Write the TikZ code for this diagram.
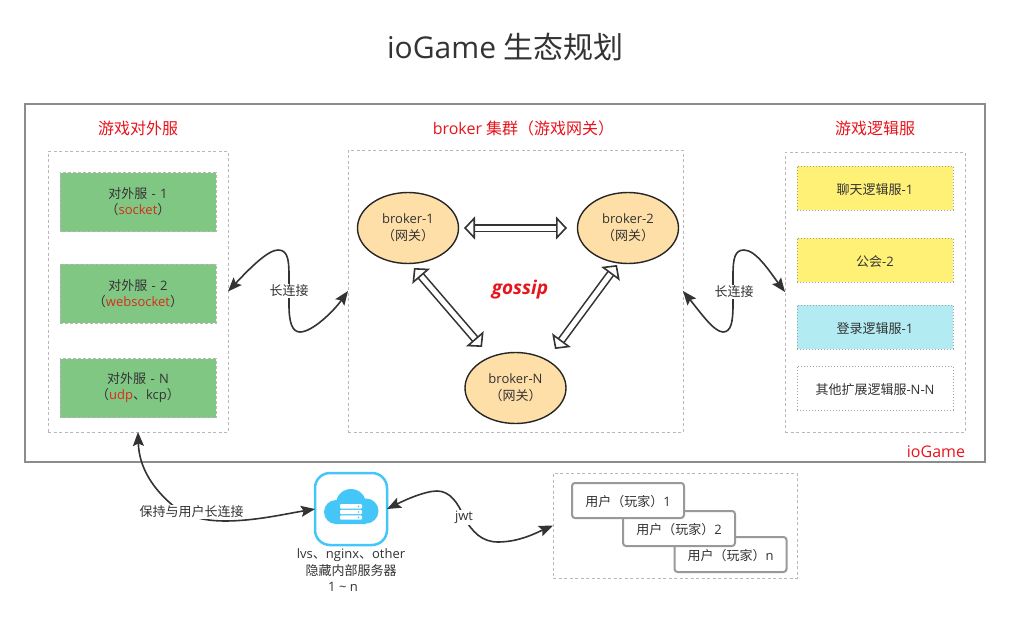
\documentclass[tikz,border=0pt]{standalone}
\usepackage{fontspec}
\setmainfont{Open Sans}
\newfontfamily\cjk{Noto Sans CJK SC}
\usetikzlibrary{arrows.meta,shapes.geometric}
\newcommand{\zh}[1]{{\cjk #1}}
\newcommand{\fsz}[1]{\fontsize{#1}{#1}\selectfont}
\newcommand{\gap}[1]{\rule{0pt}{#1pt}}
\newcommand{\dsh}{\kern1pt\ -\ \kern1pt}
\definecolor{ink}{HTML}{333333}
\definecolor{hotred}{HTML}{E8141C}
\definecolor{softred}{HTML}{D92B1A}
\definecolor{dashgray}{HTML}{B8B8B8}
\definecolor{dotgray}{HTML}{A0A0A0}
\definecolor{boxgreen}{HTML}{81C784}
\definecolor{boxyellow}{HTML}{FFF176}
\definecolor{boxcyan}{HTML}{B2EBF2}
\definecolor{boxorange}{HTML}{FFDFA8}
\definecolor{cloudblue}{HTML}{45C6F8}
\tikzset{
  every node/.style={inner sep=0pt,outer sep=0pt,text=ink,align=center},
  group/.style={draw=dashgray,line width=1pt,dash pattern=on 3pt off 2.5pt,fill=white},
  greenbox/.style={fill=boxgreen,draw=dashgray,line width=1pt,dash pattern=on 3pt off 2pt,minimum width=156pt,minimum height=59pt,font=\fsz{13},execute at begin node={\gap{14.4}}},
  logicbox/.style={draw=dotgray,line width=1pt,dotted,minimum width=156pt,minimum height=44pt,font=\fsz{13},execute at begin node={\gap{13.4}}},
  brokernode/.style={ellipse,draw=black!85,line width=1.4pt,fill=boxorange,minimum width=101pt,minimum height=71pt,font=\fsz{13},execute at begin node={\gap{15.4}}},
  userbox/.style={draw=black!40,line width=2pt,rounded corners=3pt,fill=white,minimum width=112pt,minimum height=35pt,font=\fsz{13},execute at begin node={\gap{14}}},
  heading/.style={text=hotred,font=\fsz{16}},
  linklabel/.style={fill=white,font=\fsz{13},inner sep=1pt},
  curvelink/.style={draw=ink,line width=1.6pt,{Stealth[length=14pt,width=11pt,inset=2.5pt]}-{Stealth[length=14pt,width=11pt,inset=2.5pt]}},
  blockarrow/.style={draw=ink,double=white,double distance=5pt,line width=1.6pt,line join=miter,
    {Triangle[open,fill=white,length=11pt,width=23pt,line width=1.6pt]}-{Triangle[open,fill=white,length=11pt,width=23pt,line width=1.6pt]}},
}
\begin{document}
\begin{tikzpicture}[x=1pt,y=-1pt]
\useasboundingbox (0,0) rectangle (1010,629);
\fill[white] (0,0) rectangle (1010,629);
\node[font=\fsz{30}] (title) at (505.5,47) {ioGame \zh{生态规划}};
\node[draw=black!45,line width=2pt,minimum width=960pt,minimum height=358pt] (outer) at (505,283) {};
\node[heading,anchor=south east] (iog) at (965,458) {ioGame};

% left group
\node[heading] (h1) at (138,128) {\zh{游戏对外服}};
\node[group,minimum width=180pt,minimum height=281pt] (lb) at (138,291.5) {};
\node[greenbox] (g1) at (138,202) {\zh{对外服}\dsh 1\\[3pt]\zh{（}\textcolor{softred}{socket}\zh{）}};
\node[greenbox] (g2) at (138,293.5) {\zh{对外服}\dsh 2\\[3pt]\zh{（}\textcolor{softred}{websocket}\zh{）}};
\node[greenbox] (g3) at (138,388) {\zh{对外服}\dsh N\\[3pt]\zh{（}\textcolor{softred}{udp}\zh{、}kcp\zh{）}};

% centre group
\node[heading] (h2) at (523.5,128) {broker \zh{集群（游戏网关）}};
\node[group,minimum width=335pt,minimum height=282pt] (cb) at (515.5,291) {};
\node[brokernode] (b1) at (408,228) {broker-1\\[4pt]\zh{（网关）}};
\node[brokernode] (b2) at (628,228) {broker-2\\[4pt]\zh{（网关）}};
\node[brokernode] (bn) at (515.5,388) {broker-N\\[4pt]\zh{（网关）}};
\coordinate (a1) at (464,228);
\coordinate (a2) at (567,228);
\coordinate (c1) at (414,268);
\coordinate (c2) at (482,347);
\coordinate (d1) at (617,265);
\coordinate (d2) at (555,349);
\draw[blockarrow] (a1) -- (a2);
\draw[blockarrow] (c1) -- (c2);
\draw[blockarrow] (d1) -- (d2);
\node[text=hotred,font=\fsz{19}\bfseries\itshape] (gos) at (520,290) {gossip};

% right group
\node[heading] (h3) at (875,128) {\zh{游戏逻辑服}};
\node[group,minimum width=180pt,minimum height=280pt] (rb) at (875,292) {};
\node[logicbox,fill=boxyellow] (r1) at (875,188) {\zh{聊天逻辑服}-1};
\node[logicbox,fill=boxyellow] (r2) at (875,260) {\zh{公会}-2};
\node[logicbox,fill=boxcyan] (r3) at (875,327) {\zh{登录逻辑服}-1};
\node[logicbox,fill=white] (r4) at (875,388) {\zh{其他扩展逻辑服}-N-N};

% long connection links
\draw[curvelink] (lb.east) .. controls (250,268) and (268,250) .. (278,250)
  .. controls (287,250) and (289,258) .. (289,275) -- (289,305)
  .. controls (289,322) and (292,332) .. (300,332)
  .. controls (312,332) and (333,312) .. (cb.west);
\node[linklabel] (l1) at (289,291) {\zh{长连接}};
\draw[curvelink] (cb.east) .. controls (700,312) and (714,332) .. (723,332)
  .. controls (731,332) and (733,322) .. (733,305) -- (733,275)
  .. controls (733,258) and (735,250) .. (744,250)
  .. controls (756,250) and (770,272) .. (rb.west);
\node[linklabel] (l2) at (734,292) {\zh{长连接}};

% cloud server
\node[draw=cloudblue,line width=2.5pt,rounded corners=15pt,fill=white,minimum width=72pt,minimum height=72pt] (srv) at (351,509) {};
\fill[cloudblue] (351,504) circle[radius=15pt] (336,512) circle[radius=12pt] (366,511) circle[radius=12.5pt] (336,512) rectangle (366,524);
\fill[white,rounded corners=1pt] (340,504) rectangle (362,508.5) (340,509.8) rectangle (362,514) (340,515.3) rectangle (362,519.5);
\fill[cloudblue] (358.5,506.2) circle[radius=.9pt] (358.5,511.9) circle[radius=.9pt] (358.5,517.4) circle[radius=.9pt];
\node[font=\fsz{13}] (s1) at (351,555) {lvs\zh{、}nginx\zh{、}other};
\node[font=\fsz{13}] (s2) at (351,570.5) {\zh{隐藏内部服务器}};
\node[font=\fsz{13}] (s3) at (343,586.5) {1 \textasciitilde{} n};

% keep-alive link
\draw[curvelink] (lb.south) .. controls (139,465) and (150,485) .. (170,503)
  .. controls (180,512) and (195,521) .. (225,521)
  .. controls (255,521) and (285,514) .. (srv.west);
\node[linklabel] (l3) at (191.5,512) {\zh{保持与用户长连接}};

% users
\node[group,minimum width=244pt,minimum height=105pt] (ub) at (675,525.5) {};
\node[userbox] (u3) at (730.5,554.5) {\zh{用户（玩家）}n};
\node[userbox] (u2) at (679,528.5) {\zh{用户（玩家）}2};
\node[userbox] (u1) at (628,500.5) {\zh{用户（玩家）}1};

% jwt link
\draw[curvelink] (srv.east) .. controls (405,500) and (425,491) .. (437,491)
  .. controls (450,491) and (458,503) .. (464,517)
  .. controls (472,532) and (482,542) .. (498,542)
  .. controls (520,542) and (538,532) .. (ub.west);
\node[linklabel] (l4) at (464,517.5) {jwt};
\end{tikzpicture}
\end{document}
